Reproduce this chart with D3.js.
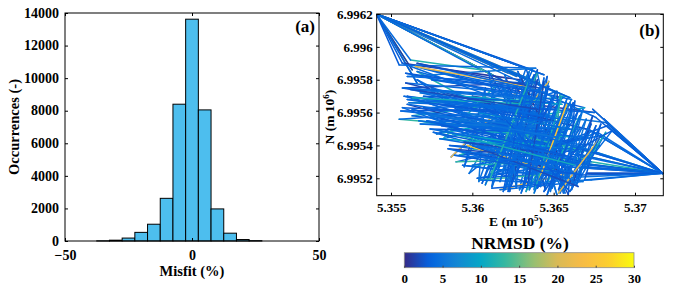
<!DOCTYPE html>
<html>
<head>
<meta charset="utf-8">
<script src="https://cdn.jsdelivr.net/npm/d3@7"></script>
<style>
  body { margin: 0; background: #fff; }
  svg text { font-family: "Liberation Serif", "Times New Roman", serif; font-weight: bold; fill: #000; }
</style>
</head>
<body>
<svg id="chart" width="673" height="292"></svg>
<script>
'use strict'

// (a) histogram of misfit
const misfitEdges = [-37.5, -32.5, -27.5, -22.5, -17.5, -12.5, -7.5, -2.5, 2.5, 7.5, 12.5, 17.5, 22.5, 27.5]
const occurrences = [10, 50, 180, 530, 1030, 2620, 8400, 13620, 8050, 1970, 480, 90, 20]
const misfitTicks = [-50, 0, 50]
const occurrenceTicks = [0, 2000, 4000, 6000, 8000, 10000, 12000, 14000]

// (b) track in E / N coordinates, coloured by NRMSD (%)
const trackE = [
  5.3557, 5.3541, 5.3633, 5.3541, 5.3641, 5.3541, 5.3618, 5.3541, 5.3563, 5.3541, 5.3648, 5.3541, 5.3627, 5.3541, 5.3566, 5.3541, 5.3612, 5.3541, 5.3637,
  5.3606, 5.3629, 5.3557, 5.3638, 5.3560, 5.3650, 5.3566, 5.3622, 5.3612, 5.3640, 5.3623, 5.3635, 5.3598, 5.3657, 5.3563, 5.3648, 5.3555, 5.3617, 5.3587, 5.3630, 5.3645,
  5.3620, 5.3636, 5.3644, 5.3629, 5.3661, 5.3570, 5.3669, 5.3578, 5.3652, 5.3656, 5.3640, 5.3608, 5.3633, 5.3657, 5.3618, 5.3665, 5.3600, 5.3675, 5.3572, 5.3682,
  5.3717, 5.3670, 5.3717, 5.3686, 5.3717, 5.3660, 5.3717, 5.3674, 5.3717, 5.3650, 5.3678, 5.3600, 5.3675, 5.3586, 5.3668, 5.3567, 5.3655, 5.3590, 5.3672, 5.3603,
  5.3664, 5.3617, 5.3668, 5.3615, 5.3642, 5.3625, 5.3651, 5.3633, 5.3660, 5.3640, 5.3666, 5.3602, 5.3671, 5.3592, 5.3650, 5.3575, 5.3620, 5.3566, 5.3635, 5.3560,
  5.3628, 5.3610, 5.3622, 5.3646, 5.3638, 5.3654, 5.3648, 5.3663, 5.3659, 5.3626, 5.3604, 5.3608, 5.3595, 5.3615, 5.3582, 5.3642, 5.3558, 5.3660, 5.3563, 5.3668,
  5.3576, 5.3655, 5.3590, 5.3640, 5.3600, 5.3670, 5.3610, 5.3677, 5.3717, 5.3669, 5.3717, 5.3681, 5.3717, 5.3664, 5.3717, 5.3673, 5.3645, 5.3652, 5.3631, 5.3647,
  5.3613, 5.3638, 5.3620, 5.3643, 5.3632, 5.3658, 5.3622, 5.3664, 5.3585, 5.3650, 5.3570, 5.3662, 5.3628, 5.3652, 5.3635, 5.3614, 5.3644, 5.3625, 5.3656, 5.3580,
  5.3641, 5.3595, 5.3660, 5.3605, 5.3670, 5.3590, 5.3655, 5.3568, 5.3625, 5.3557, 5.3634, 5.3597, 5.3645, 5.3605, 5.3666, 5.3621, 5.3676, 5.3717, 5.3667, 5.3660,
  5.3639, 5.3658, 5.3646, 5.3666, 5.3653, 5.3673, 5.3661, 5.3679, 5.3650, 5.3683,
  5.3717, 5.3676, 5.3541, 5.3652, 5.3541, 5.3622, 5.3541, 5.3644, 5.3541, 5.3660,
  5.3541, 5.3605, 5.3562, 5.3541, 5.3555, 5.3639, 5.3560, 5.3632, 5.3558, 5.3645,
  5.3561, 5.3652, 5.3556, 5.3640, 5.3568, 5.3657, 5.3574, 5.3633, 5.3580, 5.3648,
  5.3585, 5.3660, 5.3594, 5.3642, 5.3604, 5.3650, 5.3612, 5.3634, 5.3617, 5.3640,
  5.3624, 5.3647, 5.3630, 5.3655, 5.3638, 5.3662, 5.3646, 5.3668, 5.3654, 5.3674,
  5.3661, 5.3679, 5.3669, 5.3717, 5.3663, 5.3717, 5.3671, 5.3717, 5.3658, 5.3717,
  5.3673, 5.3610, 5.3668, 5.3598, 5.3661, 5.3570, 5.3650, 5.3565, 5.3638, 5.3575,
  5.3627, 5.3559, 5.3620, 5.3563, 5.3636, 5.3570, 5.3629, 5.3575, 5.3653, 5.3581,
  5.3644, 5.3588, 5.3656, 5.3595, 5.3663, 5.3601, 5.3635, 5.3608, 5.3652, 5.3616,
  5.3642, 5.3620, 5.3627, 5.3632, 5.3619, 5.3644, 5.3634, 5.3658, 5.3641, 5.3665,
  5.3649, 5.3670, 5.3657, 5.3676, 5.3664, 5.3682, 5.3667, 5.3686, 5.3660, 5.3717,
  5.3655, 5.3717, 5.3666, 5.3604, 5.3660, 5.3579, 5.3648, 5.3562, 5.3638, 5.3559,
  5.3646, 5.3566, 5.3641, 5.3611, 5.3635, 5.3622, 5.3649, 5.3635, 5.3661, 5.3644,
  5.3672, 5.3653, 5.3678, 5.3660, 5.3612, 5.3665, 5.3600, 5.3667, 5.3589, 5.3663,
  5.3580, 5.3657, 5.3572, 5.3652, 5.3567, 5.3646, 5.3560, 5.3640, 5.3557, 5.3634
]
const trackN = [
  6.99590, 6.99620, 6.99587, 6.99620, 6.99578, 6.99620, 6.99580, 6.99620, 6.99586, 6.99620, 6.99574, 6.99620, 6.99582, 6.99620, 6.99578, 6.99620, 6.99583, 6.99620, 6.99586,
  6.99517, 6.99580, 6.99590, 6.99560, 6.99570, 6.99540, 6.99585, 6.99570, 6.99515, 6.99586, 6.99512, 6.99585, 6.99523, 6.99570, 6.99558, 6.99548, 6.99556, 6.99560, 6.99533, 6.99575, 6.99513,
  6.99583, 6.99515, 6.99581, 6.99513, 6.99568, 6.99587, 6.99563, 6.99547, 6.99573, 6.99511, 6.99584, 6.99516, 6.99587, 6.99511, 6.99576, 6.99520, 6.99570, 6.99560, 6.99567, 6.99554,
  6.99523, 6.99523, 6.99523, 6.99549, 6.99523, 6.99530, 6.99523, 6.99562, 6.99523, 6.99520, 6.99540, 6.99545, 6.99528, 6.99540, 6.99536, 6.99555, 6.99545, 6.99530, 6.99532, 6.99520,
  6.99524, 6.99513, 6.99518, 6.99530, 6.99576, 6.99520, 6.99572, 6.99512, 6.99555, 6.99514, 6.99550, 6.99548, 6.99545, 6.99534, 6.99556, 6.99575, 6.99540, 6.99580, 6.99545, 6.99565,
  6.99555, 6.99585, 6.99515, 6.99582, 6.99513, 6.99571, 6.99512, 6.99567, 6.99510, 6.99578, 6.99518, 6.99575, 6.99527, 6.99577, 6.99544, 6.99560, 6.99570, 6.99540, 6.99562, 6.99530,
  6.99548, 6.99525, 6.99537, 6.99530, 6.99528, 6.99540, 6.99522, 6.99548, 6.99523, 6.99527, 6.99523, 6.99556, 6.99523, 6.99535, 6.99523, 6.99519, 6.99518, 6.99565, 6.99514, 6.99579,
  6.99536, 6.99583, 6.99513, 6.99570, 6.99520, 6.99560, 6.99525, 6.99545, 6.99550, 6.99535, 6.99560, 6.99515, 6.99585, 6.99510, 6.99570, 6.99525, 6.99565, 6.99530, 6.99550, 6.99555,
  6.99550, 6.99560, 6.99525, 6.99565, 6.99550, 6.99570, 6.99565, 6.99572, 6.99560, 6.99563, 6.99535, 6.99540, 6.99525, 6.99533, 6.99528, 6.99548, 6.99535, 6.99523, 6.99522, 6.99566,
  6.99516, 6.99568, 6.99517, 6.99558, 6.99513, 6.99553, 6.99517, 6.99546, 6.99540, 6.99552,
  6.99523, 6.99557, 6.99620, 6.99572, 6.99620, 6.99584, 6.99620, 6.99583, 6.99620, 6.99569,
  6.99620, 6.99586, 6.99592, 6.99620, 6.99589, 6.99587, 6.99582, 6.99578, 6.99575, 6.99568,
  6.99566, 6.99562, 6.99561, 6.99552, 6.99553, 6.99548, 6.99550, 6.99540, 6.99544, 6.99533,
  6.99538, 6.99520, 6.99528, 6.99522, 6.99519, 6.99517, 6.99514, 6.99582, 6.99518, 6.99580,
  6.99516, 6.99576, 6.99511, 6.99570, 6.99511, 6.99566, 6.99510, 6.99562, 6.99511, 6.99558,
  6.99513, 6.99553, 6.99519, 6.99523, 6.99540, 6.99523, 6.99550, 6.99523, 6.99527, 6.99523,
  6.99530, 6.99527, 6.99545, 6.99552, 6.99555, 6.99570, 6.99566, 6.99588, 6.99575, 6.99580,
  6.99572, 6.99578, 6.99563, 6.99569, 6.99565, 6.99563, 6.99550, 6.99558, 6.99550, 6.99552,
  6.99541, 6.99547, 6.99538, 6.99542, 6.99533, 6.99535, 6.99528, 6.99531, 6.99524, 6.99523,
  6.99515, 6.99575, 6.99514, 6.99573, 6.99512, 6.99579, 6.99516, 6.99565, 6.99519, 6.99561,
  6.99514, 6.99556, 6.99513, 6.99552, 6.99516, 6.99548, 6.99525, 6.99549, 6.99535, 6.99523,
  6.99530, 6.99523, 6.99538, 6.99560, 6.99550, 6.99565, 6.99557, 6.99574, 6.99568, 6.99584,
  6.99572, 6.99590, 6.99575, 6.99520, 6.99580, 6.99512, 6.99569, 6.99513, 6.99560, 6.99512,
  6.99548, 6.99511, 6.99544, 6.99512, 6.99565, 6.99515, 6.99540, 6.99522, 6.99534, 6.99528,
  6.99549, 6.99534, 6.99555, 6.99545, 6.99560, 6.99555, 6.99568, 6.99562, 6.99575, 6.99570
]
const trackNrmsd = [
  4, 3, 2, 5, 21, 4, 12, 3, 13, 1, 4, 6, 24, 4, 11, 3, 2, 14, 3,
  4, 3, 1, 4, 5, 3, 12, 4, 3, 5, 2, 4, 6, 4, 11, 3, 13, 4, 3, 22, 4,
  1, 5, 3, 4, 6, 4, 3, 10, 4, 2, 4, 12, 4, 3, 5, 4, 3, 1, 4, 5,
  3, 4, 2, 6, 4, 12, 3, 1, 4, 5, 3, 4, 10, 4, 3, 11, 4, 3, 13, 4,
  3, 24, 4, 5, 3, 4, 2, 4, 11, 4, 3, 5, 4, 3, 12, 4, 6, 3, 4, 1,
  4, 3, 4, 5, 3, 4, 13, 4, 3, 2, 4, 5, 3, 4, 12, 4, 3, 4, 6, 4,
  3, 4, 1, 4, 11, 4, 3, 5, 4, 3, 4, 2, 4, 12, 3, 4, 5, 4, 3, 4,
  21, 4, 3, 4, 6, 4, 3, 4, 11, 4, 3, 4, 1, 4, 5, 3, 4, 12, 4, 3,
  4, 6, 4, 3, 4, 2, 4, 10, 4, 3, 4, 5, 26, 4, 3, 4, 12, 4, 3, 4,
  5, 3, 4, 11, 4, 3, 4, 6, 4, 3,
  4, 3, 4, 5, 3, 20, 4, 2, 4, 10,
  3, 4, 12, 4, 3, 4, 5, 4, 2, 4,
  11, 4, 3, 4, 5, 4, 3, 4, 10, 4,
  2, 4, 3, 4, 13, 4, 3, 4, 5, 4,
  2, 4, 3, 4, 11, 4, 3, 4, 5, 4,
  2, 4, 3, 4, 10, 4, 3, 4, 2, 4,
  12, 4, 3, 4, 5, 4, 3, 4, 22, 4,
  3, 4, 2, 4, 11, 4, 3, 4, 5, 4,
  3, 4, 10, 4, 2, 4, 3, 4, 12, 4,
  3, 4, 5, 4, 3, 4, 2, 4, 25, 4,
  3, 4, 5, 4, 3, 4, 11, 4, 3, 4,
  2, 4, 3, 4, 10, 4, 3, 4, 5, 4,
  3, 4, 2, 4, 12, 4, 3, 4, 5, 4,
  3, 4, 21, 4, 3, 4, 2, 4, 3, 4,
  11, 4, 3, 4, 5, 4, 3, 4, 2, 4
]
const eTicks = [5.355, 5.36, 5.365, 5.37]
const nTicks = [6.9952, 6.9954, 6.9956, 6.9958, 6.996, 6.9962]
const nrmsdTicks = [0, 5, 10, 15, 20, 25, 30]

// parula colour map (MATLAB)
const parula = ['#352a87', '#0363e1', '#1485d4', '#06a7c6', '#38b99e', '#92bf73', '#d9ba56', '#f8bb44', '#fcce2e', '#f9fb0e']
const colour = d3.scaleSequential([0, 30], d3.piecewise(d3.interpolateRgb, parula))

const svg = d3.select('#chart')

function styleTicks (g) {
  g.select('.domain').remove()
  g.selectAll('.tick line').attr('stroke', '#000')
}

// ---------- panel (a) ----------
const hx = d3.scaleLinear([-50, 50], [65, 319])
const hy = d3.scaleLinear([0, 14000], [241, 13])
const gA = svg.append('g')

gA.append('g').selectAll('rect')
  .data(occurrences)
  .join('rect')
  .attr('x', (d, i) => hx(misfitEdges[i]))
  .attr('width', (d, i) => hx(misfitEdges[i + 1]) - hx(misfitEdges[i]))
  .attr('y', d => hy(d))
  .attr('height', d => hy(0) - hy(d))
  .attr('fill', '#4dbeee')
  .attr('stroke', '#000')
  .attr('stroke-width', 1)

// x labels sit a touch low so "-50" clears the "0" of the y axis
gA.append('g').attr('transform', `translate(0,${hy(0)})`)
  .call(d3.axisBottom(hx).tickValues(misfitTicks).tickSize(-3).tickPadding(9).tickFormat(d3.format('d')))
  .call(styleTicks)
  .selectAll('.tick text').attr('font-size', 14).attr('dy', '0.71em')
gA.append('g').attr('transform', `translate(0,${hy(14000)})`)
  .call(d3.axisTop(hx).tickValues(misfitTicks).tickSize(-3).tickFormat(''))
  .call(styleTicks)
gA.append('g').attr('transform', `translate(${hx(-50)},0)`)
  .call(d3.axisLeft(hy).tickValues(occurrenceTicks).tickSize(-3).tickPadding(6).tickFormat(d3.format('d')))
  .call(styleTicks)
  .selectAll('.tick text').attr('font-size', 14).attr('dy', '0.3em')
gA.append('g').attr('transform', `translate(${hx(50)},0)`)
  .call(d3.axisRight(hy).tickValues(occurrenceTicks).tickSize(-3).tickFormat(''))
  .call(styleTicks)

gA.append('rect')
  .attr('x', hx(-50)).attr('y', hy(14000))
  .attr('width', hx(50) - hx(-50)).attr('height', hy(0) - hy(14000))
  .attr('fill', 'none').attr('stroke', '#000').attr('stroke-width', 1)

gA.append('text').attr('x', 192).attr('y', 276).attr('text-anchor', 'middle')
  .attr('font-size', 14.5).text('Misfit (%)')
gA.append('text').attr('transform', 'translate(19,127) rotate(-90)').attr('text-anchor', 'middle')
  .attr('font-size', 14.5).text('Occurrences (-)')
gA.append('text').attr('x', 315).attr('y', 32).attr('text-anchor', 'end')
  .attr('font-size', 17).text('(a)')

// ---------- panel (b) ----------
const ex = d3.scaleLinear([5.35412, 5.37174], [376.7, 663.3])
const ny = d3.scaleLinear([6.995094, 6.9962], [195.7, 14])
const gB = svg.append('g')

gB.append('clipPath').attr('id', 'clipB')
  .append('rect')
  .attr('x', ex.range()[0]).attr('y', ny.range()[1])
  .attr('width', ex.range()[1] - ex.range()[0]).attr('height', ny.range()[0] - ny.range()[1])

const nPts = Math.min(trackE.length, trackN.length, trackNrmsd.length)
gB.append('g').attr('clip-path', 'url(#clipB)')
  .selectAll('line')
  .data(d3.range(nPts - 1))
  .join('line')
  .attr('x1', i => ex(trackE[i]))
  .attr('y1', i => ny(trackN[i]))
  .attr('x2', i => ex(trackE[i + 1]))
  .attr('y2', i => ny(trackN[i + 1]))
  .attr('stroke', i => colour(trackNrmsd[i + 1]))
  .attr('stroke-width', 1.5)
  .attr('stroke-linecap', 'round')

gB.append('g').attr('transform', `translate(0,${ny.range()[0]})`)
  .call(d3.axisBottom(ex).tickValues(eTicks).tickSize(-3).tickPadding(7).tickFormat(d => String(d)))
  .call(styleTicks)
  .selectAll('.tick text').attr('font-size', 13)
gB.append('g').attr('transform', `translate(0,${ny.range()[1]})`)
  .call(d3.axisTop(ex).tickValues(eTicks).tickSize(-3).tickFormat(''))
  .call(styleTicks)
gB.append('g').attr('transform', `translate(${ex.range()[0]},0)`)
  .call(d3.axisLeft(ny).tickValues(nTicks).tickSize(-3).tickPadding(4).tickFormat(d => String(d)))
  .call(styleTicks)
  .selectAll('.tick text').attr('font-size', 13)
gB.append('g').attr('transform', `translate(${ex.range()[1]},0)`)
  .call(d3.axisRight(ny).tickValues(nTicks).tickSize(-3).tickFormat(''))
  .call(styleTicks)

gB.append('rect')
  .attr('x', ex.range()[0]).attr('y', ny.range()[1])
  .attr('width', ex.range()[1] - ex.range()[0]).attr('height', ny.range()[0] - ny.range()[1])
  .attr('fill', 'none').attr('stroke', '#000').attr('stroke-width', 1)

const eLabel = gB.append('text').attr('x', 516).attr('y', 226).attr('text-anchor', 'middle').attr('font-size', 13.5)
eLabel.append('tspan').text('E (m 10')
eLabel.append('tspan').attr('dy', -5).attr('font-size', 9).text('5')
eLabel.append('tspan').attr('dy', 5).text(')')

const nLabel = gB.append('text').attr('transform', 'translate(334,117) rotate(-90)').attr('text-anchor', 'middle').attr('font-size', 13.5)
nLabel.append('tspan').text('N (m 10')
nLabel.append('tspan').attr('dy', -5).attr('font-size', 9).text('6')
nLabel.append('tspan').attr('dy', 5).text(')')

gB.append('text').attr('x', 660).attr('y', 36).attr('text-anchor', 'end')
  .attr('font-size', 17).text('(b)')

// ---------- colour bar ----------
const cx = d3.scaleLinear([0, 30], [404.3, 634])
const cbTop = 252.7
const cbHeight = 15
const grad = svg.append('defs').append('linearGradient').attr('id', 'parulaGrad')
grad.selectAll('stop')
  .data(d3.range(0, 31))
  .join('stop')
  .attr('offset', d => `${(d / 30) * 100}%`)
  .attr('stop-color', d => colour(d))

svg.append('rect')
  .attr('x', cx(0)).attr('y', cbTop)
  .attr('width', cx(30) - cx(0)).attr('height', cbHeight)
  .attr('fill', 'url(#parulaGrad)')
  .attr('stroke', '#8c8c8c').attr('stroke-width', 0.8)

svg.append('g').attr('transform', `translate(0,${cbTop + cbHeight})`)
  .call(d3.axisBottom(cx).tickValues(nrmsdTicks).tickSize(-2).tickPadding(6).tickFormat(d3.format('d')))
  .call(styleTicks)
  .call(g => g.selectAll('.tick line').attr('stroke', '#444'))
  .selectAll('.tick text').attr('font-size', 13)

svg.append('text').attr('x', 520).attr('y', 249).attr('text-anchor', 'middle')
  .attr('font-size', 17.5).text('NRMSD (%)')
</script>
</body>
</html>
